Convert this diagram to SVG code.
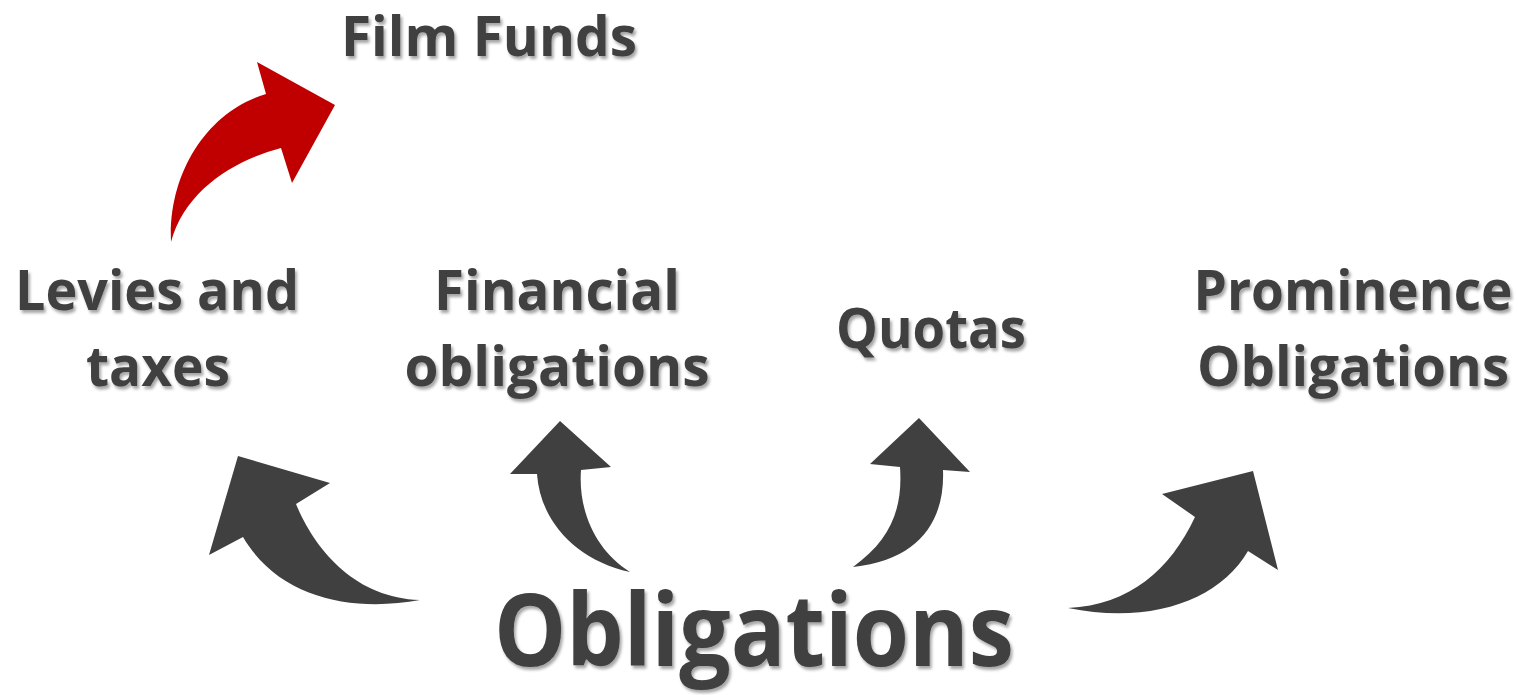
<svg xmlns="http://www.w3.org/2000/svg" width="1518" height="695" viewBox="0 0 1518 695">
  <defs>
    <filter id="shadow" x="-10%" y="-20%" width="120%" height="150%">
      <feDropShadow dx="2" dy="3" stdDeviation="1.6" flood-color="#000" flood-opacity="0.35"/>
    </filter>
    <style>
      .lbl { font-family: "Open Sans", "Noto Sans", sans-serif; font-weight: 700; fill: #404040; text-anchor: middle; filter: url(#shadow); }
      .mid { font-size: 56px; }
      .big { font-size: 100px; }
      .arrow { fill: #404040; stroke: none; }
      .arrow-red { fill: #c00000; stroke: none; }
    </style>
  </defs>
  <rect width="1518" height="695" fill="#ffffff"/>

  <!-- curved arrows -->
  <g id="connectors">
    <path class="arrow-red" d="M171,242 C168,170 210,110 266,94 L257,62 L335,105 L292,183 L281,148 C235,160 185,190 171,242 Z"/>
    <path class="arrow" d="M238,456 L330,483 L296,504 C315,550 355,598 420,600 C355,612 280,600 243,537 L209,555 Z"/>
    <path class="arrow" d="M560,421 L611,467 L581,470 C578,510 595,550 630,572 C575,560 540,520 537,474 L510,474 Z"/>
    <path class="arrow" d="M919,418 L970,472 L943,470 C945,520 920,560 853,567 C890,540 903,510 900,467 L870,464 Z"/>
    <path class="arrow" d="M1253,471 L1278,570 L1248,551 C1220,600 1150,625 1068,608 C1130,605 1170,570 1195,517 L1162,494 Z"/>
  </g>

  <g id="film-funds">
    <text class="lbl mid" x="489" y="56" textLength="296" lengthAdjust="spacingAndGlyphs">Film Funds</text>
  </g>
  <g id="levies">
    <text class="lbl mid" x="157" y="310" textLength="284" lengthAdjust="spacingAndGlyphs">Levies and</text>
    <text class="lbl mid" x="158" y="386" textLength="144" lengthAdjust="spacingAndGlyphs">taxes</text>
  </g>
  <g id="financial">
    <text class="lbl mid" x="557" y="310" textLength="246" lengthAdjust="spacingAndGlyphs">Financial</text>
    <text class="lbl mid" x="557" y="386" textLength="305" lengthAdjust="spacingAndGlyphs">obligations</text>
  </g>
  <g id="quotas">
    <text class="lbl mid" x="931" y="348" textLength="190" lengthAdjust="spacingAndGlyphs">Quotas</text>
  </g>
  <g id="prominence">
    <text class="lbl mid" x="1353" y="310" textLength="319" lengthAdjust="spacingAndGlyphs">Prominence</text>
    <text class="lbl mid" x="1353" y="386" textLength="312" lengthAdjust="spacingAndGlyphs">Obligations</text>
  </g>
  <g id="obligations">
    <text class="lbl big" x="754" y="666" textLength="520" lengthAdjust="spacingAndGlyphs">Obligations</text>
  </g>
</svg>
